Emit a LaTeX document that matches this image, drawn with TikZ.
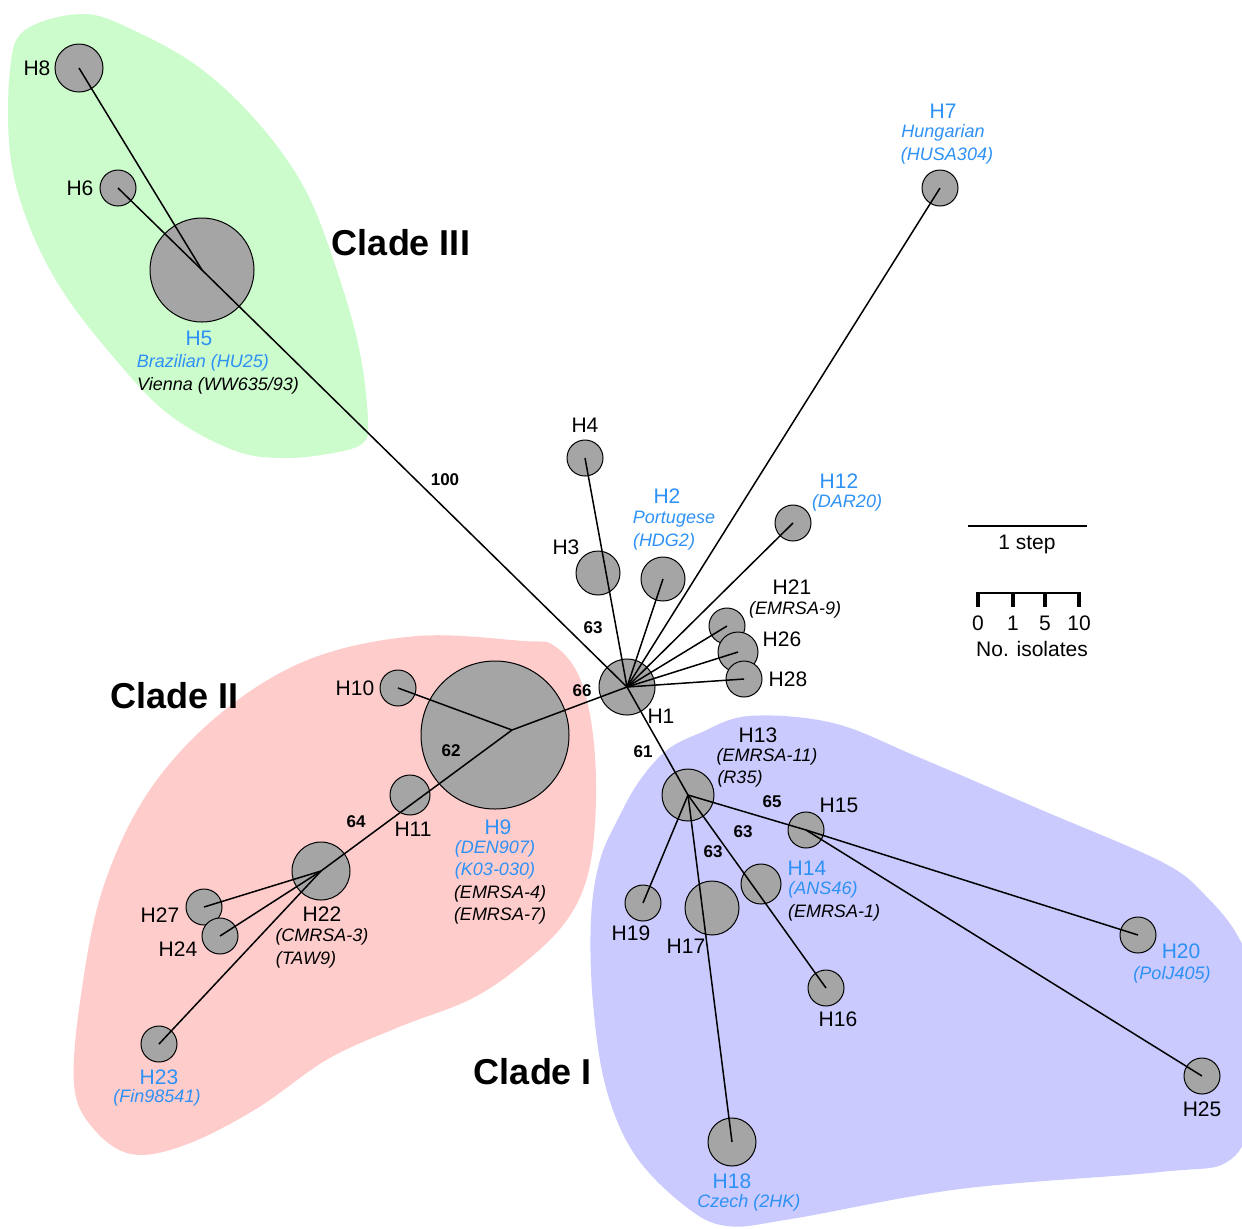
\documentclass[tikz,border=0pt]{standalone}
\usepackage{fontspec}
\setmainfont{Liberation Sans}
\tikzstyle{hap} = [circle, draw=black, line width=0.5pt, fill=hapgray, inner sep=0pt, minimum size=18pt]
\tikzstyle{hlab} = [inner sep=0pt, font=\fontsize{10.5}{12}\selectfont]
\tikzstyle{slab} = [inner sep=0pt, font=\itshape\fontsize{9}{11}\selectfont]
\tikzstyle{boot} = [inner sep=0pt, font=\bfseries\fontsize{8.5}{10}\selectfont]
\tikzstyle{clade} = [inner sep=0pt, font=\bfseries\fontsize{18}{20}\selectfont]
\tikzstyle{edge} = [line width=0.75pt]
\definecolor{hapgray}{RGB}{165,165,165}
\definecolor{blue1}{RGB}{45,145,245}
\definecolor{green1}{RGB}{204,252,204}
\definecolor{red1}{RGB}{255,204,204}
\definecolor{blue2}{RGB}{202,202,255}

\begin{document}
\begin{tikzpicture}[x=0.5pt, y=-0.5pt]
	\useasboundingbox (0,0) rectangle (1242,1228);
	% Clades
	\fill [green1] plot [smooth cycle, tension=0.6] coordinates {(83,14) (133,30) (200,68) (260,125) (307,193) (340,280) (360,353) (368,420) (363,443) (333,453) (283,458) (233,450) (167,413) (110,353) (60,287) (27,220) (10,153) (10,70) (25,30)};
	\fill [red1] plot [smooth cycle, tension=0.6] coordinates {(524,641) (553,645) (578,674) (592,727) (596,799) (589,870) (567,920) (524,963) (471,999) (399,1027) (328,1059) (256,1109) (185,1145) (131,1154) (92,1127) (74,1084) (81,995) (103,888) (149,791) (221,713) (310,659) (417,636)};
	\fill [blue2] plot [smooth cycle, tension=0.6] coordinates {(667,750) (700,733) (749,716) (833,723) (918,757) (1044,811) (1162,862) (1205,895) (1240,940) (1258,1000) (1253,1105) (1230,1160) (1160,1172) (960,1189) (791,1219) (727,1226) (685,1206) (635,1155) (606,1088) (593,1003) (591,919) (600,860) (620,815) (640,780)};

	% Haplotypes
	\node [hap, minimum size=24pt] (H8) at (79,68) {};
	\node [hap] (H6) at (118,188) {};
	\node [hap, minimum size=52pt] (H5) at (202,270) {};
	\node [hap, minimum size=28pt] (H1) at (627,687) {};
	\node [hap] (H4) at (585,458) {};
	\node [hap, minimum size=22pt] (H3) at (598,573) {};
	\node [hap, minimum size=22pt] (H2) at (663,579) {};
	\node [hap] (H12) at (793,523) {};
	\node [hap] (H7) at (940,188) {};
	\node [hap] (H21) at (727,626) {};
	\node [hap, minimum size=20pt] (H26) at (738,652) {};
	\node [hap] (H28) at (744,679) {};
	\node [hap, minimum size=74pt] (H9) at (495,735) {};
	\node [hap] (H10) at (398,688) {};
	\node [hap, minimum size=20pt] (H11) at (410,795) {};
	\node [hap, minimum size=29pt] (H22) at (321,871) {};
	\node [hap] (H27) at (204,907) {};
	\node [hap] (H24) at (220,936) {};
	\node [hap] (H23) at (159,1044) {};
	\node [hap, minimum size=26pt] (H13) at (688,795) {};
	\node [hap] (H15) at (806,830) {};
	\node [hap, minimum size=20pt] (H14) at (761,884) {};
	\node [hap] (H19) at (643,903) {};
	\node [hap, minimum size=27pt] (H17) at (712,908) {};
	\node [hap] (H16) at (826,988) {};
	\node [hap] (H20) at (1138,935) {};
	\node [hap] (H25) at (1202,1076) {};
	\node [hap, minimum size=24pt] (H18) at (732,1142) {};
	\coordinate (H9j) at (512,730);

	\draw [edge] (H8.center) to (H5.center);
	\draw [edge] (H6.center) to (H5.center) to (H1.center);
	\draw [edge] (H1.center) to (H4.center);
	\draw [edge] (H1.center) to (H2.center);
	\draw [edge] (H1.center) to (H7.center);
	\draw [edge] (H1.center) to (H12.center);
	\draw [edge] (H1.center) to (H21.center);
	\draw [edge] (H1.center) to (H26.center);
	\draw [edge] (H1.center) to (H28.center);
	\draw [edge] (H1.center) to (H9j);
	\draw [edge] (H9j) to (H10.center);
	\draw [edge] (H9j) to (H22.center);
	\draw [edge] (H22.center) to (H27.center);
	\draw [edge] (H22.center) to (H24.center);
	\draw [edge] (H22.center) to (H23.center);
	\draw [edge] (H1.center) to (H13.center);
	\draw [edge] (H13.center) to (H19.center);
	\draw [edge] (H13.center) to (H18.center);
	\draw [edge] (H13.center) to (H16.center);
	\draw [edge] (H13.center) to (H15.center);
	\draw [edge] (H15.center) to (H20.center);
	\draw [edge] (H15.center) to (H25.center);

	% Labels
	\node [hlab, left of=H8, node distance=21pt] (L8) {H8};
	\node [hlab, left of=H6, node distance=19pt] (L6) {H6};
	\node [hlab, text=blue1, below of=H5, node distance=34pt, xshift=-1.5pt] (L5) {H5};
	\node [slab, text=blue1, below of=L5, node distance=12.5pt, xshift=2pt] (L5a) {Brazilian (HU25)};
	\node [slab, below of=L5a, node distance=11.5pt, xshift=7.5pt] (L5b) {Vienna (WW635/93)};
	\node [hlab, above of=H4, node distance=16.5pt] (L4) {H4};
	\node [hlab, above of=H3, node distance=13pt, xshift=-16pt] (L3) {H3};
	\node [hlab, text=blue1, above of=H2, node distance=41.5pt, xshift=2pt] (L2) {H2};
	\node [slab, text=blue1, below of=L2, node distance=11.5pt, xshift=3.5pt] (L2a) {Portugese};
	\node [slab, text=blue1, below of=L2a, node distance=11.5pt, xshift=-5pt] (L2b) {(HDG2)};
	\node [hlab, text=blue1, above of=H12, node distance=21pt, xshift=23pt] (L12) {H12};
	\node [slab, text=blue1, below of=L12, node distance=11pt, xshift=4pt] (L12a) {(DAR20)};
	\node [hlab, text=blue1, above of=H7, node distance=38.5pt, xshift=1.5pt] (L7) {H7};
	\node [slab, text=blue1, below of=L7, node distance=11pt] (L7a) {Hungarian};
	\node [slab, text=blue1, below of=L7a, node distance=11.5pt, xshift=2pt] (L7b) {(HUSA304)};
	\node [hlab, above of=H21, node distance=19.5pt, xshift=32.5pt] (L21) {H21};
	\node [slab, below of=L21, node distance=11.5pt, xshift=1.5pt] (L21a) {(EMRSA-9)};
	\node [hlab, right of=H26, node distance=22pt, yshift=6.5pt] (L26) {H26};
	\node [hlab, right of=H28, node distance=22pt] (L28) {H28};
	\node [hlab, right of=H1, node distance=17pt, yshift=-14.5pt] (L1) {H1};
	\node [hlab, left of=H10, node distance=21.5pt] (L10) {H10};
	\node [hlab, below of=H11, node distance=17pt, xshift=1.5pt] (L11) {H11};
	\node [hlab, text=blue1, below of=H9, node distance=46pt, xshift=1.5pt] (L9) {H9};
	\node [slab, text=blue1, below of=L9, node distance=11pt, xshift=-1.5pt] (L9a) {(DEN907)};
	\node [slab, text=blue1, below of=L9a, node distance=11pt] (L9b) {(K03-030)};
	\node [slab, below of=L9b, node distance=11.5pt, xshift=2.5pt] (L9c) {(EMRSA-4)};
	\node [slab, below of=L9c, node distance=11pt] (L9d) {(EMRSA-7)};
	\node [hlab, below of=H22, node distance=21.5pt, xshift=0.5pt] (L22) {H22};
	\node [slab, below of=L22, node distance=11.5pt] (L22a) {(CMRSA-3)};
	\node [slab, below of=L22a, node distance=11.5pt, xshift=-8pt] (L22b) {(TAW9)};
	\node [hlab, left of=H27, node distance=22pt, yshift=-4pt] (L27) {H27};
	\node [hlab, left of=H24, node distance=21pt, yshift=-6.5pt] (L24) {H24};
	\node [hlab, text=blue1, below of=H23, node distance=16.5pt] (L23) {H23};
	\node [slab, text=blue1, below of=L23, node distance=10.5pt, xshift=-1pt] (L23a) {(Fin98541)};
	\node [hlab, above of=H13, node distance=30pt, xshift=35pt] (L13) {H13};
	\node [slab, below of=L13, node distance=11pt, xshift=4.5pt] (L13a) {(EMRSA-11)};
	\node [slab, below of=L13a, node distance=11pt, xshift=-13.5pt] (L13b) {(R35)};
	\node [hlab, above of=H15, node distance=12.5pt, xshift=16.5pt] (L15) {H15};
	\node [hlab, text=blue1, right of=H14, node distance=23pt, yshift=8pt] (L14) {H14};
	\node [slab, text=blue1, below of=L14, node distance=11pt, xshift=8pt] (L14a) {(ANS46)};
	\node [slab, below of=L14a, node distance=11.5pt, xshift=5.5pt] (L14b) {(EMRSA-1)};
	\node [hlab, below of=H19, node distance=15pt, xshift=-6pt] (L19) {H19};
	\node [hlab, below of=H17, node distance=19pt, xshift=-13pt] (L17) {H17};
	\node [hlab, below of=H16, node distance=15.5pt, xshift=6pt] (L16) {H16};
	\node [hlab, text=blue1, right of=H20, node distance=21.5pt, yshift=-8pt] (L20) {H20};
	\node [slab, text=blue1, below of=L20, node distance=12pt, xshift=-4.5pt] (L20a) {(PolJ405)};
	\node [hlab, below of=H25, node distance=16.5pt] (L25) {H25};
	\node [hlab, text=blue1, below of=H18, node distance=19.5pt] (L18) {H18};
	\node [slab, text=blue1, below of=L18, node distance=11pt, xshift=8.5pt] (L18a) {Czech (2HK)};

	% Support values
	\node [boot] (B1) at (445,480) {100};
	\node [boot] (B2) at (593,628) {63};
	\node [boot] (B3) at (582,691) {66};
	\node [boot] (B4) at (451,751) {62};
	\node [boot] (B5) at (356,822) {64};
	\node [boot] (B6) at (643,752) {61};
	\node [boot] (B7) at (772,802) {65};
	\node [boot] (B8) at (743,832) {63};
	\node [boot] (B9) at (713,852) {63};

	\node [clade] (C3) at (401,243) {Clade III};
	\node [clade] (C2) at (175,696) {Clade II};
	\node [clade] (C1) at (533,1072) {Clade I};

	% Legend
	\draw [line width=0.75pt] (968,526) -- (1087,526);
	\node [hlab] (S1) at (1027,544) {1 step};
	\draw [line width=1pt] (977,593) -- (1081,593);
	\foreach \x/\n in {978/0, 1013/1, 1045/5, 1079/10} {
		\draw [line width=2pt] (\x,592) -- (\x,607);
		\node [hlab] at (\x,623) {\n};
	}
	\node [hlab] (S2) at (1032,649) {No. isolates};
\end{tikzpicture}
\end{document}
